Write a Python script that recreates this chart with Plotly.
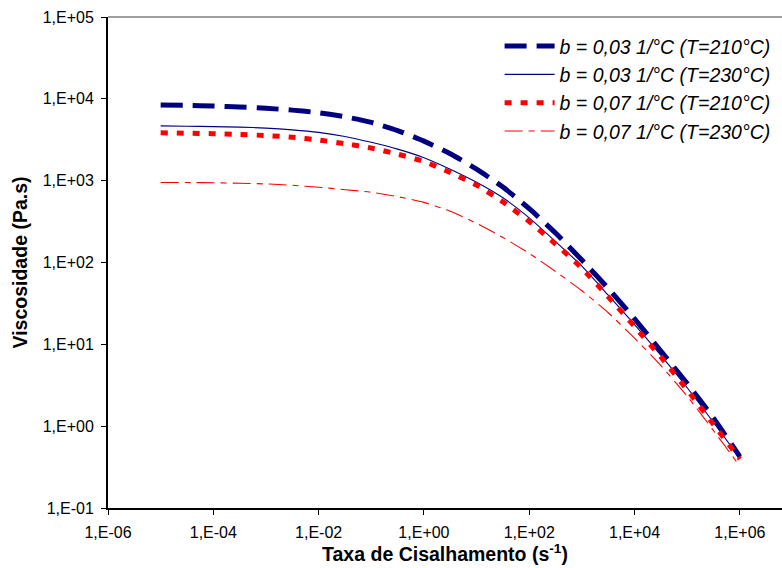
import plotly.graph_objects as go

# Shear rate (1/s), half-decade steps from 1e-5 to 1e6
shear_rate = [1e-5, 3.16e-5, 1e-4, 3.16e-4, 1e-3, 3.16e-3, 1e-2, 3.16e-2, 1e-1, 3.16e-1,
              1e0, 3.16e0, 1e1, 3.16e1, 1e2, 3.16e2, 1e3, 3.16e3, 1e4, 3.16e4,
              1e5, 3.16e5, 1e6]

# Viscosity (Pa.s) for each case
visc_b003_t210 = [8410, 8320, 8170, 7940, 7660, 7280, 6760, 6050, 5150, 4090,
                  3040, 2130, 1380, 834, 454, 229, 107, 48.3, 20.5, 8.26,
                  3.32, 1.25, 0.425]
visc_b003_t230 = [4670, 4630, 4580, 4510, 4390, 4180, 3890, 3470, 2940, 2430,
                  1910, 1380, 955, 617, 351, 180, 90.2, 39.8, 17.4, 7.33,
                  2.95, 1.11, 0.407]
visc_b007_t210 = [3840, 3800, 3750, 3670, 3560, 3390, 3140, 2830, 2500, 2110,
                  1710, 1260, 881, 550, 316, 168, 85.1, 38.2, 16.5, 7.01,
                  2.77, 1.05, 0.398]
visc_b007_t230 = [951, 948, 942, 931, 912, 879, 832, 776, 721, 638,
                  543, 422, 301, 202, 129, 77.6, 45.2, 24.3, 11.9, 5.50,
                  2.32, 0.881, 0.324]

series_names = ["b = 0,03 1/°C (T=210°C)", "b = 0,03 1/°C (T=230°C)",
                "b = 0,07 1/°C (T=210°C)", "b = 0,07 1/°C (T=230°C)"]

x_tick_vals = [1e-6, 1e-4, 1e-2, 1e0, 1e2, 1e4, 1e6]
x_tick_text = ["1,E-06", "1,E-04", "1,E-02", "1,E+00", "1,E+02", "1,E+04", "1,E+06"]
y_tick_vals = [1e-1, 1e0, 1e1, 1e2, 1e3, 1e4, 1e5]
y_tick_text = ["1,E-01", "1,E+00", "1,E+01", "1,E+02", "1,E+03", "1,E+04", "1,E+05"]

NAVY = "#000080"
RED = "#FF0000"

styles = [
    dict(color=NAVY, width=5, dash="22px,10px"),
    dict(color=NAVY, width=1.1, dash="solid"),
    dict(color=RED, width=5, dash="7px,9px"),
    dict(color=RED, width=1.1, dash="18px,6px,6px,6px"),
]
values = [visc_b003_t210, visc_b003_t230, visc_b007_t210, visc_b007_t230]

fig = go.Figure()
for i, (name, ys, st) in enumerate(zip(series_names, values, styles)):
    fig.add_trace(go.Scatter(
        x=shear_rate, y=ys, name=name, mode="lines",
        line=dict(shape="spline", smoothing=0.6, **st),
        legendgroup=f"g{i}",
    ))

FONT = "Liberation Sans, Arial, sans-serif"

fig.update_layout(
    width=782, height=568,
    margin=dict(l=108, r=0, t=17, b=60),
    paper_bgcolor="white", plot_bgcolor="white",
    font=dict(family=FONT, size=16, color="black"),
    showlegend=True,
    legend=dict(
        x=0.581, y=0.98, xanchor="left", yanchor="top",
        bgcolor="rgba(0,0,0,0)", borderwidth=0,
        font=dict(family=FONT, size=19.5, color="black", style="italic"),
        traceorder="grouped", tracegroupgap=0, itemwidth=50,
    ),
    xaxis=dict(
        type="log", range=[-6, 6.8],
        tickvals=x_tick_vals, ticktext=x_tick_text,
        showgrid=False, zeroline=False,
        showline=True, linecolor="black", linewidth=2,
        ticks="outside", ticklen=5, tickcolor="black", tickwidth=1,
        tickfont=dict(size=16), ticklabelstandoff=4,
        title=dict(text="<b>Taxa de Cisalhamento (s<sup>-1</sup>)</b>",
                   font=dict(size=19.5), standoff=6),
    ),
    yaxis=dict(
        type="log", range=[-1, 5],
        tickvals=y_tick_vals, ticktext=y_tick_text,
        showgrid=False, zeroline=False,
        showline=True, linecolor="black", linewidth=2,
        ticks="outside", ticklen=5, tickcolor="black", tickwidth=1,
        tickfont=dict(size=16), ticklabelstandoff=4,
        title=dict(text="<b>Viscosidade (Pa.s)</b>", font=dict(size=19.5), standoff=10),
    ),
    shapes=[dict(type="line", xref="paper", yref="paper", x0=0, x1=1, y0=1, y1=1,
                 line=dict(color="#808080", width=1.5))],
)

fig.write_html("out.html")
